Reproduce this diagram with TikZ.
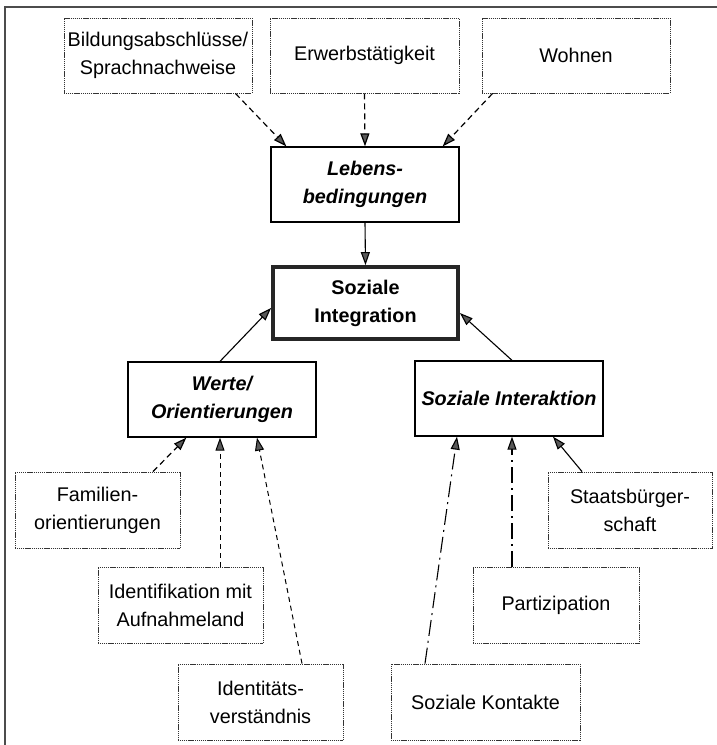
\documentclass[tikz,border=0pt]{standalone}
\usepackage{fontspec}
\setmainfont{Liberation Sans}
\usetikzlibrary{arrows.meta}
\begin{document}
\begin{tikzpicture}[x=1pt,y=-1pt,
  every node/.style={font=\fontsize{19.8}{28}\selectfont, align=center, inner sep=0pt},
  smallbox/.style={draw=black!80, line width=0.9pt, dash pattern=on 1.2pt off 0.7pt,
     minimum height=75pt},
  mainbox/.style={draw=black, line width=1.3pt, minimum width=188pt, minimum height=75pt,
     font=\fontsize{19.8}{28}\selectfont\bfseries\itshape},
  centralbox/.style={draw=black!85, line width=3.8pt, minimum width=185pt, minimum height=72pt,
     font=\fontsize{19.8}{28}\selectfont\bfseries},
  tip/.style={-{Triangle[length=13pt,width=9pt,fill=black!65]}},
  dasharrow/.style={tip, line width=1.2pt, dash pattern=on 6pt off 4pt},
  finedash/.style={tip, line width=1pt, dash pattern=on 5pt off 4pt},
  dashdot/.style={tip, line width=1.1pt, dash pattern=on 16pt off 5pt on 2pt off 5pt},
  solidarrow/.style={tip, line width=1.1pt}
]
\useasboundingbox (0,0) rectangle (717,745);
% frame
\draw[black!70, line width=1.2pt] (5,745) -- (5,7) -- (717,7);

% top row
\node[smallbox, minimum width=188pt] (bild) at (158,55.5) {Bildungsabschlüsse/\\Sprachnachweise};
\node[smallbox, minimum width=189pt] (erwerb) at (364.5,55.5) {Erwerbstätigkeit};
\node[smallbox, minimum width=188pt] (wohnen) at (576,55.5) {Wohnen};

% main boxes
\node[mainbox] (lebens) at (365,184.5) {Lebens-\\bedingungen};
\node[centralbox] (sozint) at (365.5,303) {Soziale\\Integration};
\node[mainbox] (werte) at (222,399.5) {Werte/\\Orientierungen};
\node[mainbox] (sozinter) at (509,398.5) {Soziale Interaktion};

% bottom boxes
\node[smallbox, minimum width=165pt, minimum height=76pt] (familien) at (97.5,510) {Familien-\\orientierungen};
\node[smallbox, minimum width=164pt, minimum height=76pt] (staats) at (630,510) {Staatsbürger-\\schaft};
\node[smallbox, minimum width=165pt, minimum height=76pt] (identif) at (180.5,605) {Identifikation mit\\Aufnahmeland};
\node[smallbox, minimum width=166pt, minimum height=76pt] (partiz) at (556,605) {Partizipation};
\node[smallbox, minimum width=165pt, minimum height=76pt] (identit) at (260.5,702) {Identitäts-\\verständnis};
\node[smallbox, minimum width=189pt, minimum height=76pt] (kontakte) at (485.5,702) {Soziale Kontakte};

% arrows top
\draw[dasharrow] ([xshift=-17pt]bild.south east) -- ([xshift=16pt]lebens.north west);
\draw[dasharrow] (erwerb.south) -- (lebens.north);
\draw[dasharrow] ([xshift=11pt]wohnen.south west) -- ([xshift=-17pt]lebens.north east);

% to central
\draw[solidarrow] (lebens.south) -- (sozint.north);
\draw[solidarrow] ([xshift=-2pt]werte.north) -- ([yshift=-5pt]sozint.west);
\draw[solidarrow] ([xshift=3pt]sozinter.north) -- ([yshift=-10pt]sozint.east);

% to Werte
\draw[dasharrow] ([xshift=55.5pt]familien.north) -- ([xshift=59pt]werte.south west);
\draw[finedash] ([xshift=39.5pt]identif.north) -- ([xshift=-2pt]werte.south);
\draw[finedash] ([xshift=41.5pt]identit.north) -- ([xshift=35pt]werte.south);

% to Soziale Interaktion
\draw[dashdot] ([xshift=-60.5pt]kontakte.north) -- ([xshift=-52pt]sozinter.south);
\draw[dashdot] ([xshift=-44pt]partiz.north) -- ([xshift=3pt]sozinter.south);
\draw[solidarrow] ([xshift=-48pt]staats.north) -- ([xshift=44pt]sozinter.south);
\end{tikzpicture}
\end{document}
